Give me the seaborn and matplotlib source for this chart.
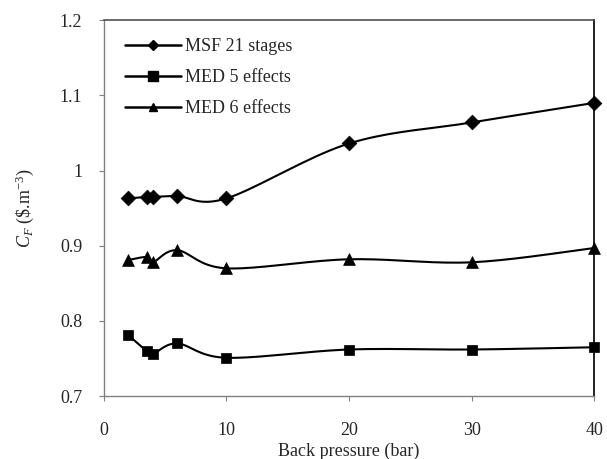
import numpy as np
import pandas as pd
import matplotlib
matplotlib.use("Agg")
import matplotlib.pyplot as plt
import seaborn as sns

pressure = [2, 3.5, 4, 6, 10, 20, 30, 40]
msf21 = [0.963, 0.965, 0.965, 0.966, 0.963, 1.036, 1.064, 1.090]
med5 = [0.781, 0.760, 0.756, 0.770, 0.751, 0.762, 0.762, 0.765]
med6 = [0.881, 0.885, 0.878, 0.894, 0.870, 0.882, 0.878, 0.897]
series_names = ["MSF 21 stages", "MED 5 effects", "MED 6 effects"]
markers = ["D", "s", "^"]
msizes = [7.5, 7.5, 8.5]
leg_msizes = [5, 7, 6]

sns.set_theme(style="white")
plt.rcParams["font.family"] = ["Liberation Serif", "DejaVu Serif"]
plt.rcParams["mathtext.fontset"] = "custom"
plt.rcParams["mathtext.rm"] = "Liberation Serif"
plt.rcParams["mathtext.it"] = "Liberation Serif:italic"

def smooth(x, y, n=20):
    # Bezier smoothing (like a spreadsheet "smoothed line"), used for drawing only
    x = np.asarray(x, float); y = np.asarray(y, float)
    xs, ys = [], []
    P = np.column_stack([x, y])
    for i in range(len(P) - 1):
        p0 = P[i - 1] if i > 0 else P[i]
        p1 = P[i]; p2 = P[i + 1]
        p3 = P[i + 2] if i + 2 < len(P) else P[i + 1]
        c1 = p1 + (p2 - p0) / 6.0
        c2 = p2 - (p3 - p1) / 6.0
        t = np.linspace(0, 1, n)[:, None]
        pts = (1 - t) ** 3 * p1 + 3 * (1 - t) ** 2 * t * c1 + 3 * (1 - t) * t ** 2 * c2 + t ** 3 * p2
        xs.append(pts[:, 0]); ys.append(pts[:, 1])
    return np.concatenate(xs), np.concatenate(ys)

fig = plt.figure(figsize=(6.07, 4.59), dpi=100)
ax = fig.add_axes([0.171, 0.137, 0.808, 0.819])

for name, vals, m, ms, lms in zip(series_names, [msf21, med5, med6], markers, msizes, leg_msizes):
    sx, sy = smooth(pressure, vals)
    ax.plot(sx, sy, color="black", lw=1.5, zorder=2)
    df = pd.DataFrame({"x": pressure, "y": vals})
    sns.scatterplot(data=df, x="x", y="y", marker=m, s=ms ** 2, color="black",
                    edgecolor="black", linewidth=0.5, ax=ax, zorder=3, clip_on=False)
    ax.plot([], [], color="black", lw=1.8, marker=m, markersize=lms, label=name)

ax.set_xlim(0, 40)
ax.set_ylim(0.7, 1.2)
ax.set_xticks([0, 10, 20, 30, 40])
ax.set_yticks([0.7, 0.8, 0.9, 1.0, 1.1, 1.2])
ax.set_yticklabels(["0.7", "0.8", "0.9", "1", "1.1", "1.2"])
ax.tick_params(axis="both", direction="out", length=3.5, width=0.8, color="#808080",
               labelsize=13, left=True, bottom=True)
ax.tick_params(axis="x", pad=15)
ax.tick_params(axis="y", pad=12)
ax.set_xlabel("Back pressure (bar)", fontsize=13, labelpad=2.5)
ax.set_ylabel(r"$C_F$ (\$.m$^{-3}$)", fontsize=13, labelpad=17)
for s in ["left", "bottom"]:
    ax.spines[s].set_color("#808080")
    ax.spines[s].set_linewidth(1.0)
ax.spines["top"].set_color("#505050")
ax.spines["top"].set_linewidth(1.2)
ax.spines["right"].set_color("#202020")
ax.spines["right"].set_linewidth(1.4)

leg = ax.legend(loc="upper left", frameon=False, fontsize=13, handlelength=3.1,
                bbox_to_anchor=(0.043, 0.952), borderaxespad=0, borderpad=0,
                labelspacing=0.78, handletextpad=0.25)
fig.savefig("out.png", dpi=100, facecolor="white")
